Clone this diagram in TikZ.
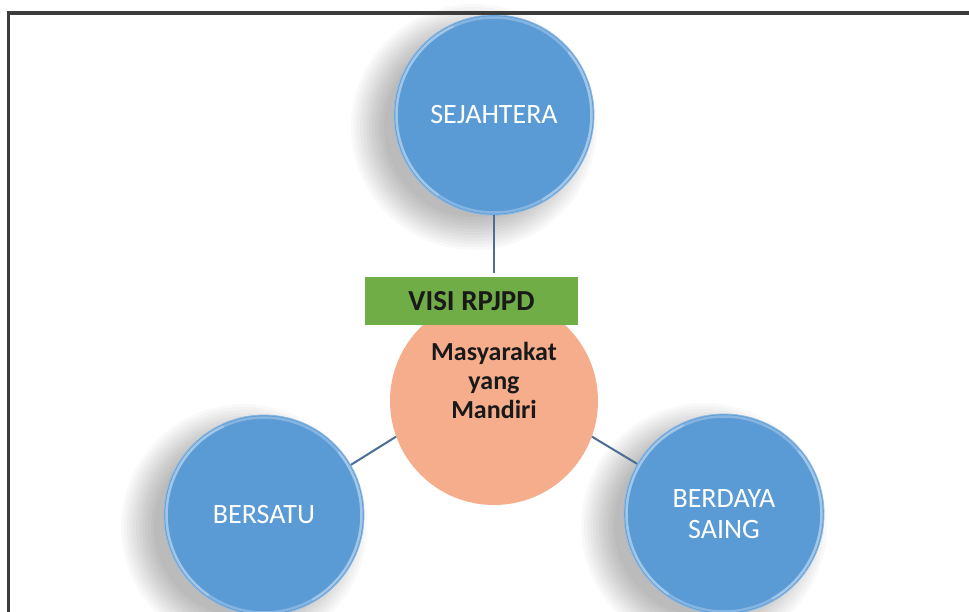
\documentclass[tikz,border=0pt]{standalone}
\usepackage{fontspec}
\setmainfont{Carlito}
\usetikzlibrary{calc}
\definecolor{blueball}{HTML}{5B9BD5}
\definecolor{orangeball}{HTML}{F5AD8C}
\definecolor{greenbox}{HTML}{70AD47}
\definecolor{linkcol}{HTML}{4A6E96}
\definecolor{framecol}{HTML}{3C3C3C}
\newcommand{\myballshadow}[2]{%
  \foreach \rr in {90,93,...,123}{%
    \fill[black, fill opacity=0.024] (#1-20,#2+12) circle (\rr pt);
  }%
}
\tikzset{
  ball/.style={circle, minimum size=200pt, inner sep=0pt, fill=blueball,
    draw=blueball!70!white, line width=0.8pt,
    text=white, align=center, font=\fontsize{28}{31}\selectfont},
  rim/.style={white, opacity=0.25, line width=2.5pt, line cap=round},
  link/.style={draw=linkcol, line width=2pt},
  frameline/.style={draw=framecol, line width=3.5pt}
}
\begin{document}
\begin{tikzpicture}[x=1pt,y=-1pt]
\useasboundingbox (0,0) rectangle (969,612);
\fill[white] (0,0) rectangle (969,612);

% shadows
\myballshadow{494}{115}
\myballshadow{264}{515}
\myballshadow{724}{514}

% circles
\node[ball] (sejahtera) at (494,115) {SEJAHTERA};
\node[ball] (bersatu) at (264,515) {BERSATU};
\node[ball] (berdaya) at (724,514) {BERDAYA\\SAING};
\node[circle, minimum size=208pt, inner sep=0pt, fill=orangeball] (mandiri) at (494,401) {};

% rims
\foreach \n in {sejahtera,bersatu,berdaya}{
  \begin{scope}[shift={(\n)}, x=1pt, y=1pt]
    \draw[rim] (0,0) circle (97.5pt);
    \draw[rim] (115:97.5) arc[start angle=115, end angle=235, radius=97.5];
    \draw[rim] (-60:97.5) arc[start angle=-60, end angle=40, radius=97.5];
  \end{scope}
}

% connectors
\coordinate (visitop) at (494,273);
\draw[link] (sejahtera.south) -- (visitop);
\draw[link] (bersatu.30) -- (mandiri.200);
\draw[link] (mandiri.340) -- (berdaya.150);

% green box
\node[rectangle, minimum width=213pt, minimum height=47pt, inner sep=0pt,
  fill=greenbox, text=black!90, font=\bfseries\fontsize{29}{31}\selectfont]
  (visi) at (471.5,301) {VISI RPJPD};

\node[align=center, text=black!90, font=\bfseries\fontsize{26}{29}\selectfont]
  (mandiritext) at (494,380) {Masyarakat\\yang\\Mandiri};

% frame
\draw[frameline] (6.75,13) -- (969,13);
\draw[frameline] (8.5,11.25) -- (8.5,612);
\end{tikzpicture}
\end{document}
